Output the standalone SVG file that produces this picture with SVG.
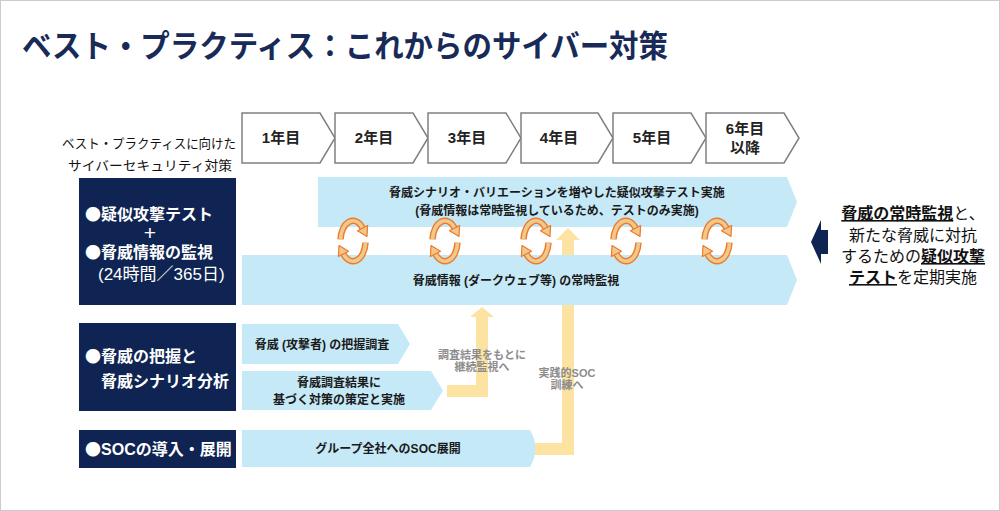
<svg xmlns="http://www.w3.org/2000/svg" xmlns:xlink="http://www.w3.org/1999/xlink" width="1000" height="511" viewBox="0 0 1000 511">
<style>
text{font-family:"Liberation Sans","Noto Sans CJK JP",sans-serif}
.title{font-size:31px;font-weight:bold;fill:#182a57}
.yr{fill:#fff;stroke:#808080;stroke-width:1.5}
.yt{font-size:15px;font-weight:bold;fill:#222;text-anchor:middle}
.hd{font-size:13px;fill:#111;text-anchor:middle}
.navy{fill:#0f2452}
.nt{font-size:16px;font-weight:bold;fill:#fff}
.dot{font-family:"Noto Sans CJK JP",sans-serif}
.band{fill:#c6e9f8}
.bt{font-size:12px;font-weight:bold;fill:#1a1a1a;text-anchor:middle}
.ya{fill:#fde3a2}
.gt{font-size:11px;font-weight:bold;fill:#8c8c8c;text-anchor:middle}
.rt{font-size:16px;fill:#111;text-anchor:middle}
.u{font-weight:bold;text-decoration:underline}
.c1{fill:none;stroke:#ee7a28;stroke-width:6.5}
.c2{fill:none;stroke:#efc88e;stroke-width:3.8}
.ch{fill:#efc88e;stroke:#ee7a28;stroke-width:1.2;stroke-linejoin:round}
</style>
<defs>
<g id="cyc">
<g id="half">
<path class="c1" d="M-12.5,-1.7 A12.5,20 0 0 1 9.6,-12.9"/>
<path class="c2" d="M-12.5,-1.7 A12.5,20 0 0 1 9.6,-12.9"/>
<polygon class="ch" points="4.5,-10.2 14.6,-15.5 14,-4.5"/>
</g>
<use xlink:href="#half" transform="rotate(180)"/>
</g>
</defs>
<rect x="0.5" y="0.5" width="999" height="510" fill="#fff" stroke="#cccccc"/>
<text class="title" x="22" y="57" textLength="646" lengthAdjust="spacingAndGlyphs">ベスト・プラクティス：これからのサイバー対策</text>

<g id="header">
<text class="hd" x="149" y="148" textLength="174" lengthAdjust="spacingAndGlyphs">ベスト・プラクティスに向けた</text>
<text class="hd" x="150" y="170" textLength="164" lengthAdjust="spacingAndGlyphs">サイバーセキュリティ対策</text>
</g>

<g id="years">
<path class="yr" d="M242,113H320L335,138L320,163H242Z"/>
<text class="yt" x="281" y="143">1年目</text>
<path class="yr" d="M335,113H413L428,138L413,163H335Z"/>
<text class="yt" x="374" y="143">2年目</text>
<path class="yr" d="M428,113H506L521,138L506,163H428Z"/>
<text class="yt" x="467" y="143">3年目</text>
<path class="yr" d="M521,113H598L613,138L598,163H521Z"/>
<text class="yt" x="559" y="143">4年目</text>
<path class="yr" d="M613,113H691L706,138L691,163H613Z"/>
<text class="yt" x="652" y="143">5年目</text>
<path class="yr" d="M706,113H784L799,138L784,163H706Z"/>
<text class="yt" x="745" y="134">6年目</text>
<text class="yt" x="745" y="153">以降</text>
</g>

<g id="connectors">
<path class="ya" d="M447,385H476V317H470L482,307L494,317H488V397H447Z"/>
<path class="ya" d="M530,443H562V240H556L568,228L580,240H574V455H530Z"/>
</g>

<g id="left1">
<rect class="navy" x="79" y="178" width="157" height="127"/>
<text class="nt" x="85" y="220"><tspan class="dot">●</tspan>疑似攻撃テスト</text>
<text class="nt" x="150" y="240" text-anchor="middle" style="font-size:21px;font-weight:normal">+</text>
<text class="nt" x="85" y="258"><tspan class="dot">●</tspan>脅威情報の監視</text>
<text class="nt" x="98" y="280" style="font-weight:normal;font-size:17px">(24時間／365日)</text>
</g>

<g id="band1">
<path class="band" d="M318,177H787L797,202L787,227H318Z"/>
<text class="bt" x="557" y="197">脅威シナリオ・バリエーションを増やした疑似攻撃テスト実施</text>
<text class="bt" x="557" y="215">(脅威情報は常時監視しているため、テストのみ実施)</text>
</g>

<g id="band2">
<path class="band" d="M242,255H787L797,280L787,305H242Z"/>
<text class="bt" x="516" y="285">脅威情報 (ダークウェブ等) の常時監視</text>
</g>

<g id="cycles">
<use xlink:href="#cyc" x="353" y="241"/>
<use xlink:href="#cyc" x="445" y="241"/>
<use xlink:href="#cyc" x="536" y="241"/>
<use xlink:href="#cyc" x="626" y="241"/>
<use xlink:href="#cyc" x="717" y="241"/>
</g>

<g id="left2">
<rect class="navy" x="79" y="323" width="157" height="88"/>
<text class="nt" x="85" y="362"><tspan class="dot">●</tspan>脅威の把握と</text>
<text class="nt" x="101" y="387">脅威シナリオ分析</text>
</g>

<g id="survey">
<path class="band" d="M242,324H398L410,344L398,364H242Z"/>
<text class="bt" x="322" y="349">脅威 (攻撃者) の把握調査</text>
</g>

<g id="measures">
<path class="band" d="M242,371H431L443,390.5L431,410H242Z"/>
<text class="bt" x="339" y="387">脅威調査結果に</text>
<text class="bt" x="339" y="404">基づく対策の策定と実施</text>
</g>

<g id="left3">
<rect class="navy" x="79" y="430" width="157" height="38"/>
<text class="nt" x="85" y="455"><tspan class="dot">●</tspan>SOCの導入・展開</text>
</g>

<g id="soc">
<path class="band" d="M242,430H530Q541,448.5 530,467H242Z"/>
<text class="bt" x="388" y="453">グループ全社へのSOC展開</text>
</g>

<g id="labels">
<text class="gt" x="482" y="359">調査結果をもとに</text>
<text class="gt" x="482" y="371">継続監視へ</text>
<text class="gt" x="567" y="377">実践的SOC</text>
<text class="gt" x="567" y="389">訓練へ</text>
</g>

<g id="summary">
<polygon class="navy" points="811,242 821,220 821,230 828,230 828,254 821,254 821,264"/>
<text class="rt" x="913" y="219"><tspan class="u">脅威の常時監視</tspan>と、</text>
<text class="rt" x="913" y="241">新たな脅威に対抗</text>
<text class="rt" x="913" y="262">するための<tspan class="u">疑似攻撃</tspan></text>
<text class="rt" x="913" y="283"><tspan class="u">テスト</tspan>を定期実施</text>
</g>
</svg>
